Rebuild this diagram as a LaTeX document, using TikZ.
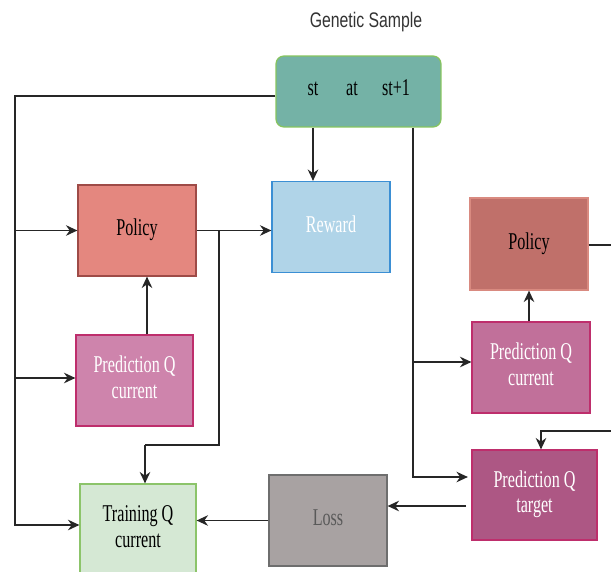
\documentclass[tikz,border=0pt]{standalone}
\usepackage{fontspec}
\setmainfont{Liberation Serif}
\newfontfamily\gsfont{Liberation Sans}
\usetikzlibrary{arrows.meta}

\definecolor{sampfill}{HTML}{74B2A6}
\definecolor{sampline}{HTML}{86C45E}
\definecolor{polfill}{HTML}{E4877F}
\definecolor{polline}{HTML}{9E4B47}
\definecolor{rewfill}{HTML}{B0D4E8}
\definecolor{rewline}{HTML}{3B8FD4}
\definecolor{pqfill}{HTML}{CE84AC}
\definecolor{pqline}{HTML}{BE2E6C}
\definecolor{trfill}{HTML}{D5E8D4}
\definecolor{trline}{HTML}{8CC46A}
\definecolor{lossfill}{HTML}{A8A2A2}
\definecolor{lossline}{HTML}{6E6E6E}
\definecolor{tgfill}{HTML}{AD5784}
\definecolor{rpolfill}{HTML}{C0706A}
\definecolor{rpolline}{HTML}{D98A80}
\definecolor{rpqfill}{HTML}{C1709A}

% squeezed box text
\newcommand{\sq}[1]{\raisebox{-1.5pt}{\scalebox{0.67}[1]{\begin{tabular}{@{}c@{}}#1\end{tabular}}}}

\begin{document}
\begin{tikzpicture}[x=0.02cm, y=-0.02cm,
  box/.style={draw, line width=0.7pt, minimum width=2.36cm, minimum height=1.82cm,
    inner sep=0pt, font=\fontsize{13.7}{14.4}\selectfont},
  arr/.style={draw=black!85, line width=0.9pt, -{Stealth[length=6.5pt,width=6pt]}},
  wire/.style={draw=black!85, line width=0.9pt}]
  \useasboundingbox (0, 0) rectangle (611, 571);
  % title
  \node[font=\gsfont\fontsize{12}{14}\selectfont, text=black!80] (title) at (366, 22)
    {\scalebox{0.75}[1]{Genetic Sample}};
  % genetic sample box with st, at, st+1
  \node[box, fill=sampfill, draw=sampline, rounded corners=4.5pt,
    minimum width=3.3cm, minimum height=1.42cm] (sample) at (358.5, 91.5) {};
  \node[font=\fontsize{13.7}{14}\selectfont] (st) at (313, 91) {\sq{st}};
  \node[font=\fontsize{13.7}{14}\selectfont] (at) at (352, 91) {\sq{at}};
  \node[font=\fontsize{13.7}{14}\selectfont] (st1) at (396, 91) {\sq{st+1}};
  % left column
  \node[box, fill=polfill, draw=polline] (pol) at (137, 230.5) {\sq{Policy}};
  \node[box, fill=rewfill, draw=rewline, text=white] (rew) at (331, 227) {\sq{Reward}};
  \node[box, fill=pqfill, draw=pqline, text=white, minimum width=2.34cm] (pqc) at (134.5, 380.5)
    {\sq{Prediction Q\\current}};
  \node[box, fill=trfill, draw=trline, minimum width=2.32cm] (train) at (138, 529.5)
    {\sq{Training Q\\current}};
  \node[box, fill=lossfill, draw=lossline, text=black!65] (loss) at (328, 520.5) {\sq{Loss}};
  % right column
  \node[box, fill=rpolfill, draw=rpolline, minimum height=1.84cm] (rpol) at (529, 244) {\sq{Policy}};
  \node[box, fill=rpqfill, draw=pqline, text=white] (rpqc) at (531, 367.5)
    {\sq{Prediction Q\\current}};
  \node[box, fill=tgfill, draw=pqline, text=white, minimum width=2.5cm, minimum height=1.8cm]
    (pqt) at (534.5, 495) {\sq{Prediction Q\\target}};
  % helper points of the wires
  \coordinate (lt) at (15, 96);
  \coordinate (lb) at (15, 525);
  \coordinate (br) at (219, 231);
  \coordinate (bb) at (219, 445);
  \coordinate (bl) at (145, 445);
  \coordinate (pa) at (147, 0);
  \coordinate (rt) at (413, 0);
  \coordinate (rb) at (413, 477);
  \coordinate (rm) at (413, 362);
  \coordinate (ly) at (466, 506);
  \coordinate (re) at (611, 245);
  \coordinate (rr) at (611, 431);
  \coordinate (rd) at (541, 431);
  % sample to the left side
  \draw[arr] (sample.west |- lt) -- (lt) -- (lb) -- (lb -| train.west);
  \draw[arr] (lt |- pol.west) -- (pol.west);
  \draw[arr] (lt |- 0, 378) -- (pqc.west |- 0, 378);
  \draw[arr] (st |- sample.south) -- (st |- rew.north);
  % policy to reward and training
  \draw[arr] (pol.east) -- (pol.east -| rew.west);
  \draw[wire] (br) -- (bb) -- (bl);
  \draw[arr] (bl) -- (bl |- train.north);
  \draw[arr] (pa |- pqc.north) -- (pa |- pol.south);
  % loss
  \draw[arr] (loss.west) -- (loss.west -| train.east);
  \draw[arr] (ly) -- (ly -| loss.east);
  % sample to the right side
  \draw[arr] (rt |- sample.south) -- (rb) -- ([xshift=-2pt]rb -| pqt.west);
  \draw[arr] (rm) -- (rm -| rpqc.west);
  \draw[arr] (rpqc.north -| rpol.south) -- (rpol.south);
  \draw[wire] (rpol.east |- re) -- (re);
  \draw[arr] (rr) -- (rd) -- (rd |- pqt.north);
\end{tikzpicture}
\end{document}
